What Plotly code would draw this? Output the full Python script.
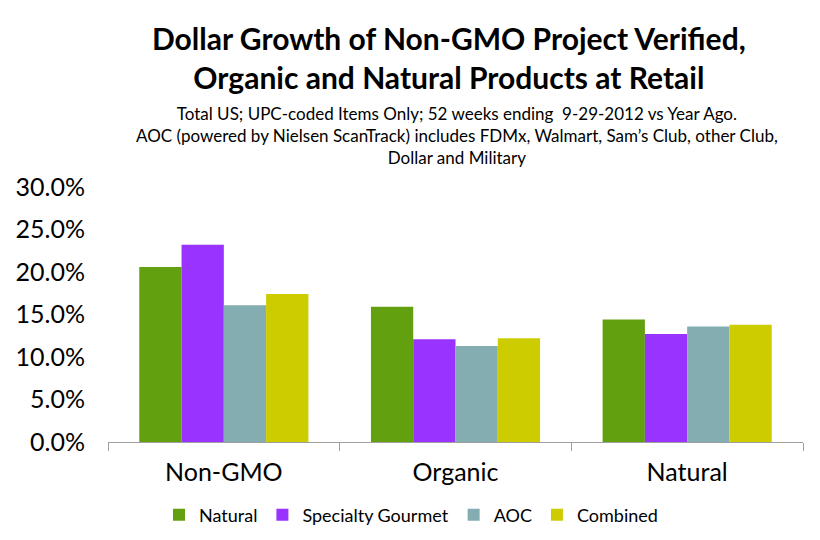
import plotly.graph_objects as go

categories = ["Non-GMO", "Organic", "Natural"]
series_names = ["Natural", "Specialty Gourmet", "AOC", "Combined"]
natural = [20.6, 15.9, 14.4]
specialty_gourmet = [23.2, 12.1, 12.7]
aoc = [16.1, 11.3, 13.6]
combined = [17.4, 12.2, 13.8]
y_ticks = [0, 5, 10, 15, 20, 25, 30]
y_tick_text = [f"{v:.1f}%" for v in y_ticks]

colors = ["#62A00F", "#9933FF", "#84ADB2", "#CCCC00"]
FONT = "Lato"

L, R, T, B = 108, 17, 187, 98
W, H = 820, 540
pw = W - L - R
ph = H - T - B

def px_to_paper(px, py):
    return (px - L) / pw, (H - B - py) / ph

fig = go.Figure()
for name, vals, c in zip(series_names, [natural, specialty_gourmet, aoc, combined], colors):
    fig.add_trace(go.Bar(name=name, x=categories, y=vals, marker=dict(color=c, line=dict(width=0))))

lx, ly = px_to_paper(411, 515)
tx, ty = px_to_paper(449, 57)
sx, sy = px_to_paper(457, 135)

fig.update_layout(
    width=W, height=H,
    barmode="group", bargap=0.27, bargroupgap=0,
    plot_bgcolor="white", paper_bgcolor="white",
    margin=dict(l=L, r=R, t=T, b=B, autoexpand=False),
    font=dict(family=FONT, color="black"),
    showlegend=True,
    legend=dict(orientation="h", x=lx, xanchor="center", y=ly, yanchor="middle",
                font=dict(size=18, family=FONT), itemwidth=30, traceorder="normal"),
    xaxis=dict(showline=True, linecolor="#A0A0A0", linewidth=1, ticks="outside",
               tickson="boundaries", ticklen=8, tickcolor="#A0A0A0",
               tickfont=dict(size=25, family=FONT), showgrid=False, automargin=False,
               ticklabelstandoff=8),
    yaxis=dict(range=[0, 30], tickvals=y_ticks, ticktext=y_tick_text,
               showgrid=False, zeroline=False, showline=False, automargin=False,
               tickfont=dict(size=25, family=FONT), ticklabelstandoff=22),
    annotations=[
        dict(text="<b>Dollar Growth of Non-GMO Project Verified,<br>Organic and Natural Products at Retail</b>",
             x=tx, y=ty, xref="paper", yref="paper", xanchor="center", yanchor="middle",
             showarrow=False, font=dict(size=30, family=FONT)),
        dict(text="Total US; UPC-coded Items Only; 52 weeks ending  9-29-2012 vs Year Ago.<br>"
                  "AOC (powered by Nielsen ScanTrack) includes FDMx, Walmart, Sam\u2019s Club, other Club,<br>"
                  "Dollar and Military",
             x=sx, y=sy, xref="paper", yref="paper", xanchor="center", yanchor="middle",
             showarrow=False, font=dict(size=17, family=FONT)),
    ],
)

fig.write_html("out.html", config={"displayModeBar": False},
               post_script="document.body.style.margin='0';document.body.style.padding='0';")
